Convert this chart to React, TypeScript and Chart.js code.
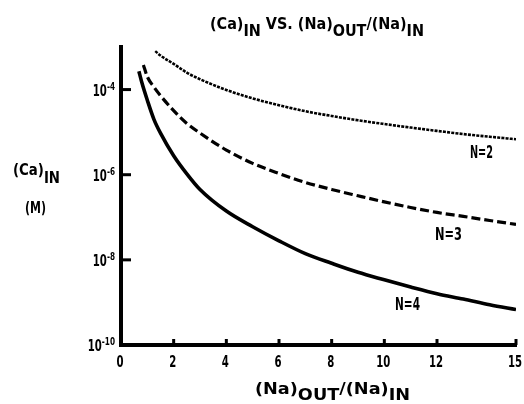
import React, { useEffect, useRef } from "react";
import { Chart, registerables } from "chart.js";

Chart.register(...registerables);

// ---- data ----
const N2_X = [1.3, 1.5, 2, 2.5, 3, 4, 5, 6, 7, 8, 9, 10, 11, 12, 13, 14, 15];
const N2_Y = [8e-4, 6.3e-4, 4.0e-4, 2.5e-4, 1.75e-4, 9.8e-5, 6.2e-5, 4.3e-5, 3.1e-5, 2.4e-5, 1.9e-5, 1.55e-5, 1.28e-5, 1.07e-5, 9.0e-6, 7.8e-6, 6.8e-6];
const N3_X = [0.85, 1, 1.25, 1.5, 2, 2.5, 3, 4, 5, 6, 7, 8, 9, 10, 11, 12, 13, 14, 15];
const N3_Y = [3.8e-4, 2.0e-4, 1.15e-4, 7.2e-5, 3.2e-5, 1.6e-5, 9.5e-6, 3.8e-6, 1.85e-6, 1.07e-6, 6.6e-7, 4.5e-7, 3.2e-7, 2.3e-7, 1.7e-7, 1.3e-7, 1.05e-7, 8.4e-8, 6.8e-8];
const N4_X = [0.68, 0.8, 1, 1.25, 1.5, 2, 2.5, 3, 4, 5, 6, 7, 8, 9, 10, 11, 12, 13, 14, 15];
const N4_Y = [2.7e-4, 1.4e-4, 5.6e-5, 2.0e-5, 9.5e-6, 2.8e-6, 1.05e-6, 4.5e-7, 1.4e-7, 6.0e-8, 2.8e-8, 1.4e-8, 8.3e-9, 5.1e-9, 3.4e-9, 2.3e-9, 1.6e-9, 1.2e-9, 8.8e-10, 6.8e-10];

const X_TICKS = [0, 2, 4, 6, 8, 10, 12, 15];
const Y_TICKS = [1e-10, 1e-8, 1e-6, 1e-4];
const Y_TICK_EXP = ["-10", "-8", "-6", "-4"];
const SERIES_LABELS = ["N=2", "N=3", "N=4"];

const FONT = "'Liberation Sans Narrow', 'DejaVu Sans Condensed', 'DejaVu Sans', sans-serif";

type Part = { t: string; dy?: number; k?: number };

function richWidth(ctx: CanvasRenderingContext2D, parts: Part[], size: number) {
  let w = 0;
  for (const p of parts) {
    ctx.font = `bold ${size * (p.k ?? 1)}px ${FONT}`;
    w += ctx.measureText(p.t).width;
  }
  return w;
}

// draws parts starting at left; if width given, squeezes horizontally to fit
function drawRich(
  ctx: CanvasRenderingContext2D,
  parts: Part[],
  left: number,
  baseline: number,
  size: number,
  width?: number,
  sxFixed = 0.8,
  align: "left" | "right" | "center" = "left"
) {
  ctx.save();
  ctx.fillStyle = "#000";
  ctx.textAlign = "left";
  ctx.textBaseline = "alphabetic";
  const natural = richWidth(ctx, parts, size);
  const sx = width ? width / natural : sxFixed;
  const total = natural * sx;
  let x0 = left;
  if (align === "right") x0 = left - total;
  if (align === "center") x0 = left - total / 2;
  ctx.translate(x0, baseline);
  ctx.scale(sx, 1);
  let x = 0;
  for (const p of parts) {
    ctx.font = `bold ${size * (p.k ?? 1)}px ${FONT}`;
    ctx.fillText(p.t, x, p.dy ?? 0);
    x += ctx.measureText(p.t).width;
  }
  ctx.restore();
}

const decorPlugin = {
  id: "decor",
  afterDraw(chart: any) {
    const ctx: CanvasRenderingContext2D = chart.ctx;
    const xs = chart.scales.x;
    const ys = chart.scales.y;
    const area = chart.chartArea;

    // inner tick marks
    ctx.save();
    ctx.strokeStyle = "#000";
    ctx.lineWidth = 3;
    ctx.lineCap = "butt";
    for (const v of Y_TICKS) {
      if (v === 1e-10) continue;
      const py = ys.getPixelForValue(v);
      ctx.beginPath();
      ctx.moveTo(area.left, py);
      ctx.lineTo(area.left + 10, py);
      ctx.stroke();
    }
    for (const v of X_TICKS) {
      if (v === 0) continue;
      const px = xs.getPixelForValue(v);
      ctx.beginPath();
      ctx.moveTo(px, area.bottom);
      ctx.lineTo(px, area.bottom - 6);
      ctx.stroke();
    }
    ctx.restore();

    // y tick labels 10^n
    Y_TICKS.forEach((v, i) => {
      const py = ys.getPixelForValue(v);
      drawRich(ctx, [{ t: "10" }, { t: Y_TICK_EXP[i], dy: -6, k: 0.72 }], 115, py + 6, 15, undefined, 0.75, "right");
    });

    // x tick labels
    X_TICKS.forEach((v) => {
      const px = xs.getPixelForValue(v);
      drawRich(ctx, [{ t: String(v) }], px - 1, area.bottom + 22, 15, undefined, 0.75, "center");
    });

    // title
    drawRich(
      ctx,
      [
        { t: "(Ca)" },
        { t: "IN", dy: 7 },
        { t: " VS. " },
        { t: "(Na)" },
        { t: "OUT", dy: 7 },
        { t: "/" },
        { t: "(Na)" },
        { t: "IN", dy: 7 },
      ],
      210,
      29,
      16,
      214
    );

    // y axis title
    drawRich(ctx, [{ t: "(Ca)" }, { t: "IN", dy: 8 }], 13, 175, 16, 47);
    drawRich(ctx, [{ t: "(M)" }], 25, 213, 16, 21);

    // x axis title
    drawRich(
      ctx,
      [{ t: "(Na)" }, { t: "OUT", dy: 6 }, { t: "/" }, { t: "(Na)" }, { t: "IN", dy: 6 }],
      255,
      394,
      16,
      155
    );

    // curve labels
    drawRich(ctx, [{ t: SERIES_LABELS[0] }], 470, 158, 17, 23);
    drawRich(ctx, [{ t: SERIES_LABELS[1] }], 435, 240, 17, 27);
    drawRich(ctx, [{ t: SERIES_LABELS[2] }], 395, 310, 17, 25);
  },
};

function pts(xs: number[], ys: number[]) {
  return xs.map((x, i) => ({ x, y: ys[i] }));
}

export default function App() {
  const ref = useRef<HTMLCanvasElement | null>(null);

  useEffect(() => {
    if (!ref.current) return;
    const chart = new Chart(ref.current, {
      type: "line",
      data: {
        datasets: [
          {
            label: SERIES_LABELS[0],
            data: pts(N2_X, N2_Y),
            borderColor: "#000",
            borderWidth: 2.6,
            borderDash: [3, 1.2],
            pointRadius: 0,
            fill: false,
            cubicInterpolationMode: "monotone",
          },
          {
            label: SERIES_LABELS[1],
            data: pts(N3_X, N3_Y),
            borderColor: "#000",
            borderWidth: 3.2,
            borderDash: [9, 4],
            pointRadius: 0,
            fill: false,
            cubicInterpolationMode: "monotone",
          },
          {
            label: SERIES_LABELS[2],
            data: pts(N4_X, N4_Y),
            borderColor: "#000",
            borderWidth: 3.6,
            pointRadius: 0,
            fill: false,
            cubicInterpolationMode: "monotone",
          },
        ],
      },
      options: {
        animation: false,
        responsive: false,
        maintainAspectRatio: false,
        devicePixelRatio: 1,
        layout: { padding: { left: 121, right: 8, top: 47, bottom: 59 } },
        plugins: {
          legend: { display: false },
          tooltip: { enabled: false },
          title: { display: false },
        },
        scales: {
          x: {
            type: "linear",
            min: 0,
            max: 15,
            grid: { display: false, drawTicks: false },
            border: { display: true, color: "#000", width: 4 },
            ticks: { display: false },
          },
          y: {
            type: "logarithmic",
            min: 1e-10,
            max: 1e-3,
            grid: { display: false, drawTicks: false },
            border: { display: true, color: "#000", width: 4 },
            ticks: { display: false },
          },
        },
      },
      plugins: [decorPlugin],
    } as any);
    return () => chart.destroy();
  }, []);

  return (
    <div style={{ position: "fixed", left: 0, top: 0, width: 524, height: 404, background: "#fff" }}>
      <canvas ref={ref} width={524} height={404} style={{ width: 524, height: 404, display: "block" }} />
    </div>
  );
}
